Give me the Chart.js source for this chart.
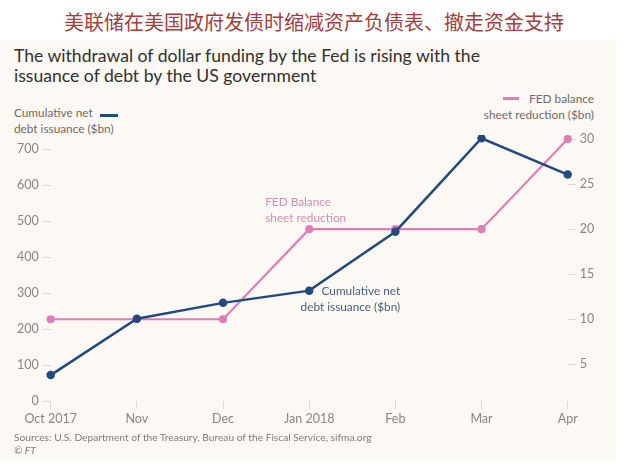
<!DOCTYPE html>
<html>
<head>
<meta charset="utf-8">
<script src="https://cdn.jsdelivr.net/npm/chart.js@4.4.0/dist/chart.umd.min.js"></script>
<style>
  body { margin: 0; background: #ffffff; }
  #wrap { position: relative; width: 640px; height: 463px; overflow: hidden; }
  #panel { position: absolute; left: 0; top: 40px; width: 616px; height: 420px; background: #fcf8f3; }
  #myChart { position: absolute; left: 0; top: 0; }
  .txt { position: absolute; font-family: Lato, "Open Sans", sans-serif; white-space: nowrap; }
  #cn { left: 0; width: 628px; top: 8px; text-align: center; font-family: "Noto Sans CJK SC", sans-serif; font-size: 20px; color: #a23e3c; line-height: 28px; }
  #title { left: 14px; top: 46px; font-size: 17.6px; line-height: 20px; color: #33302e; }
  .head { font-size: 11.8px; line-height: 16px; color: #6f6b67; }
  #foot { left: 14px; top: 431px; font-size: 10.2px; line-height: 13px; color: #807b76; }
  .dash { position: absolute; height: 3px; }
</style>
</head>
<body>
<div id="wrap">
  <div id="panel"></div>
  <div id="cn" class="txt">美联储在美国政府发债时缩减资产负债表、撤走资金支持</div>
  <div id="title" class="txt">The withdrawal of dollar funding by the Fed is rising with the<br>issuance of debt by the US government</div>
  <div class="txt head" style="left:14px; top:105px;">Cumulative net<br>debt issuance ($bn)</div>
  <div class="dash" style="left:100px; top:114px; width:18px; background:#234a80;"></div>
  <div class="dash" style="left:503px; top:97px; width:16px; background:#e07db5;"></div>
  <div class="txt head" style="right:46px; top:91px; text-align:right;">FED balance<br>sheet reduction ($bn)</div>
  <canvas id="myChart" width="640" height="463"></canvas>
  <div id="foot" class="txt">Sources: U.S. Department of the Treasury, Bureau of the Fiscal Service, sifma.org<br><i>© FT</i></div>
</div>
<script>
// datos
const meses = ["Oct 2017", "Nov", "Dec", "Jan 2018", "Feb", "Mar", "Apr"];
const deuda_neta = [72, 229, 273, 307, 471, 731, 630];      // $bn, eje izquierdo
const reduccion_fed = [10, 10, 10, 20, 20, 20, 30];         // $bn, eje derecho
const ticks_izq = [0, 100, 200, 300, 400, 500, 600, 700];
const ticks_der = [5, 10, 15, 20, 25, 30];

const azul = '#234a80';
const rosa = '#e07db5';
const gris_tick = '#dcd7d1';
const gris_label = '#8a8580';

// textos dentro del grafico, al lado del punto de Jan 2018
const anotaciones = {
    id: 'anotaciones',
    afterDatasetsDraw(chart) {
        const ctx = chart.ctx;
        const x = chart.scales.x.getPixelForValue(3);
        const yRosa = chart.scales.yDer.getPixelForValue(reduccion_fed[3]);
        const yAzul = chart.scales.yIzq.getPixelForValue(deuda_neta[3]);
        ctx.save();
        ctx.font = '11.8px Lato, sans-serif';
        ctx.textBaseline = 'middle';
        ctx.fillStyle = '#d98bb7';
        ctx.textAlign = 'left';
        ctx.fillText('FED Balance', x - 44, yRosa - 27);
        ctx.fillText('sheet reduction', x - 44, yRosa - 11);
        ctx.fillStyle = '#475f7e';
        ctx.textAlign = 'right';
        ctx.fillText('Cumulative net', x + 91, yAzul + 0.5);
        ctx.fillText('debt issuance ($bn)', x + 91, yAzul + 16.5);
        ctx.restore();
    }
};

let myChart = null;
const ctx = document.getElementById('myChart');

myChart = new Chart(ctx, {
    type: 'line',
    data: {
        labels: meses,
        datasets: [{
            label: 'Cumulative net debt issuance ($bn)',
            data: deuda_neta,
            yAxisID: 'yIzq',
            borderColor: azul,
            backgroundColor: azul,
            borderWidth: 2.5,
            pointRadius: 3,
            pointHoverRadius: 3,
            fill: false,
            tension: 0
        }, {
            label: 'FED balance sheet reduction ($bn)',
            data: reduccion_fed,
            yAxisID: 'yDer',
            borderColor: rosa,
            backgroundColor: rosa,
            borderWidth: 2.2,
            pointRadius: 3,
            pointHoverRadius: 3,
            fill: false,
            tension: 0
        }]
    },
    options: {
        responsive: false,
        animation: false,
        devicePixelRatio: 1,
        layout: { padding: { top: 135, left: 0, right: 0, bottom: 0 } },
        plugins: {
            legend: { display: false },
            tooltip: { enabled: false }
        },
        scales: {
            x: {
                offset: false,
                border: { display: false },
                grid: { drawOnChartArea: false, drawTicks: true, tickLength: 8, color: gris_tick },
                ticks: { color: gris_label, font: { family: 'Lato', size: 12.5 }, padding: 2, maxRotation: 0, autoSkip: false },
                afterFit: function (scale) { scale.height = 62; }
            },
            yIzq: {
                position: 'left',
                min: 0,
                max: 740,
                border: { display: false },
                grid: { drawOnChartArea: false, tickLength: 8, color: gris_tick },
                ticks: { color: gris_label, font: { family: 'Lato', size: 12.5 }, padding: 4 },
                afterBuildTicks: function (scale) { scale.ticks = ticks_izq.map(v => ({ value: v })); },
                afterFit: function (scale) { scale.width = 50.7; }
            },
            yDer: {
                position: 'right',
                min: 0.93,
                max: 30.45,
                border: { display: false },
                grid: { drawOnChartArea: false, tickLength: 8, color: gris_tick },
                ticks: { color: gris_label, font: { family: 'Lato', size: 12.5 }, padding: 4 },
                afterBuildTicks: function (scale) { scale.ticks = ticks_der.map(v => ({ value: v })); },
                afterFit: function (scale) { scale.width = 72.3; }
            }
        }
    },
    plugins: [anotaciones]
});
</script>
</body>
</html>
